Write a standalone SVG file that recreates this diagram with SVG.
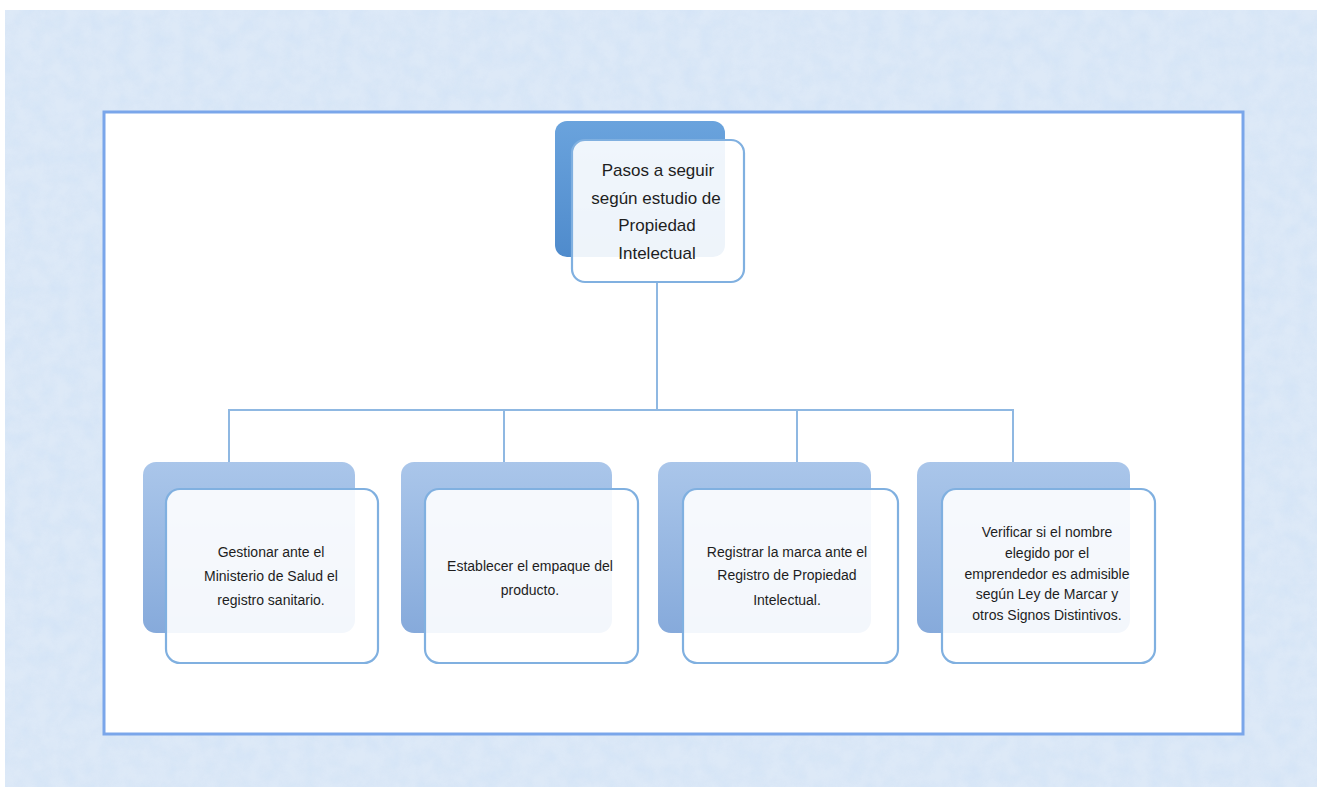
<svg xmlns="http://www.w3.org/2000/svg" width="1317" height="787" viewBox="0 0 1317 787">
  <defs>
    <filter id="tex" x="0" y="0" width="100%" height="100%">
      <feTurbulence type="fractalNoise" baseFrequency="0.06" numOctaves="4" seed="4" result="n"/>
      <feColorMatrix in="n" type="matrix" values="0 0 0 0 0.62  0 0 0 0 0.75  0 0 0 0 0.92  0 0 0 1.1 -0.3" result="c"/>
      <feComposite in="c" in2="SourceGraphic" operator="in"/>
    </filter>
    <linearGradient id="backG" x1="0" y1="0" x2="0" y2="1">
      <stop offset="0" stop-color="#aac6ea"/>
      <stop offset="1" stop-color="#86aadb"/>
    </linearGradient>
    <linearGradient id="topG" x1="0" y1="0" x2="0" y2="1">
      <stop offset="0" stop-color="#6aa3dd"/>
      <stop offset="1" stop-color="#4f8bcc"/>
    </linearGradient>
    <style>
      .back { fill: url(#backG); }
      .backTop { fill: url(#topG); }
      .front { fill: #ffffff; fill-opacity: 0.9; stroke: #80b0e0; stroke-width: 2.2; }
      .conn { fill: none; stroke: #8fb8e2; stroke-width: 2; }
      .t { font-family: "Liberation Sans", Arial, sans-serif; font-size: 14px; fill: #1e1e1e; text-anchor: middle; }
      .tt { font-family: "Liberation Sans", Arial, sans-serif; font-size: 17px; fill: #1e1e1e; text-anchor: middle; }
    </style>
  </defs>

  <rect x="0" y="0" width="1317" height="787" fill="#ffffff"/>
  <rect x="5" y="10" width="1312" height="777" fill="#dde9f7"/>
  <rect x="5" y="10" width="1312" height="777" fill="#dde9f7" filter="url(#tex)" opacity="0.8"/>

  <rect id="frame" x="104" y="112" width="1139" height="622" fill="#ffffff" stroke="#7aa6ea" stroke-width="3"/>

  <g id="connectors">
    <path class="conn" d="M657 282 V410"/>
    <path class="conn" d="M229 462 V410 H1013 V462"/>
    <path class="conn" d="M504 410 V462"/>
    <path class="conn" d="M797 410 V462"/>
  </g>

  <g id="node-top">
    <rect class="backTop" x="555" y="121" width="170" height="136" rx="12"/>
    <rect class="front" x="572" y="140" width="172" height="142" rx="13"/>
    <text class="tt" x="658" y="176">Pasos a seguir</text>
    <text class="tt" x="656" y="204">según estudio de</text>
    <text class="tt" x="657" y="231">Propiedad</text>
    <text class="tt" x="657" y="259">Intelectual</text>
  </g>

  <g id="node-1">
    <rect class="back" x="143" y="462" width="212" height="171" rx="13"/>
    <rect class="front" x="166" y="489" width="212" height="174" rx="14"/>
    <text class="t" x="271" y="557">Gestionar ante el</text>
    <text class="t" x="271" y="581">Ministerio de Salud el</text>
    <text class="t" x="271" y="605">registro sanitario.</text>
  </g>

  <g id="node-2">
    <rect class="back" x="401" y="462" width="211" height="171" rx="13"/>
    <rect class="front" x="425" y="489" width="213" height="174" rx="14"/>
    <text class="t" x="530" y="571">Establecer el empaque del</text>
    <text class="t" x="530" y="595">producto.</text>
  </g>

  <g id="node-3">
    <rect class="back" x="658" y="462" width="213" height="171" rx="13"/>
    <rect class="front" x="683" y="489" width="215" height="174" rx="14"/>
    <text class="t" x="787" y="557">Registrar la marca ante el</text>
    <text class="t" x="787" y="580">Registro de Propiedad</text>
    <text class="t" x="787" y="605">Intelectual.</text>
  </g>

  <g id="node-4">
    <rect class="back" x="917" y="462" width="213" height="171" rx="13"/>
    <rect class="front" x="942" y="489" width="213" height="174" rx="14"/>
    <text class="t" x="1047" y="537">Verificar si el nombre</text>
    <text class="t" x="1047" y="558">elegido por el</text>
    <text class="t" x="1047" y="579">emprendedor es admisible</text>
    <text class="t" x="1047" y="599">según Ley de Marcar y</text>
    <text class="t" x="1047" y="620">otros Signos Distintivos.</text>
  </g>
</svg>
